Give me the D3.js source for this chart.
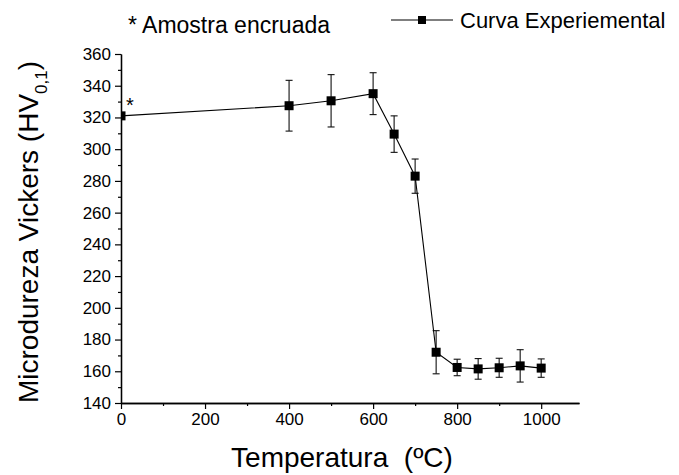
<!DOCTYPE html>
<html>
<head>
<meta charset="utf-8">
<script src="https://cdn.jsdelivr.net/npm/d3@7"></script>
<style>
  body { margin: 0; background: #fff; }
  text { font-family: "Liberation Sans", Arial, sans-serif; fill: #000; }
</style>
</head>
<body>
<div id="chart"></div>
<script>
// values
var temps = [0, 400, 500, 600, 650, 700, 750, 800, 850, 900, 950, 1000];
var hv    = [321, 327.4, 330.5, 335, 309.5, 283, 172, 162.4, 161.5, 162.2, 163.4, 162];
var errs  = [0, 16, 16.5, 13.2, 11.5, 10.8, 13.6, 5.2, 6.5, 6, 10.2, 5.8];
var xTicks = [0, 200, 400, 600, 800, 1000];
var yTicks = [140, 160, 180, 200, 220, 240, 260, 280, 300, 320, 340, 360];

var svgW = 679, svgH = 475;
var mL = 121, mR = 579, mT = 54, mB = 403;
var svg = d3.select("#chart").append("svg").attr("width", svgW).attr("height", svgH);

var x = d3.scaleLinear().domain([0, 1090]).range([mL, mR]);
var y = d3.scaleLinear().domain([140, 360]).range([mB, mT]);

var data = temps.map((t, i) => ({t: t, v: hv[i], e: errs[i]}));

// axes
var xAxis = svg.append("g").attr("transform", "translate(0," + mB + ")")
  .call(d3.axisBottom(x).tickValues(xTicks).tickSize(6).tickSizeOuter(0).tickPadding(4).tickFormat(d3.format("d")));
svg.append("g").attr("transform", "translate(0," + mB + ")")
  .call(d3.axisBottom(x).tickValues(d3.range(100, 1100, 200)).tickSize(3).tickSizeOuter(0).tickFormat(""));
var yAxis = svg.append("g").attr("transform", "translate(" + mL + ",0)")
  .call(d3.axisLeft(y).tickValues(yTicks).tickSize(6).tickSizeOuter(0).tickPadding(4).tickFormat(d3.format("d")));
svg.append("g").attr("transform", "translate(" + mL + ",0)")
  .call(d3.axisLeft(y).tickValues(d3.range(150, 360, 20)).tickSize(3).tickSizeOuter(0).tickFormat(""));
svg.selectAll(".domain").attr("stroke", "#000").attr("stroke-width", 1.3);
svg.selectAll(".tick line").attr("stroke", "#000").attr("stroke-width", 1.2);
svg.selectAll(".tick text").style("font-size", "17px").attr("fill", "#000");

// clip to plot area
svg.append("clipPath").attr("id", "plot")
  .append("rect").attr("x", mL).attr("y", 0).attr("width", mR - mL).attr("height", mB);
var plot = svg.append("g").attr("clip-path", "url(#plot)");

// error bars
var eb = plot.selectAll(".err").data(data.filter(d => d.e > 0)).enter().append("g")
  .attr("stroke", "#111").attr("stroke-width", 1.1);
eb.append("line").attr("x1", d => x(d.t)).attr("x2", d => x(d.t))
  .attr("y1", d => y(d.v - d.e)).attr("y2", d => y(d.v + d.e));
eb.append("line").attr("x1", d => x(d.t) - 3.5).attr("x2", d => x(d.t) + 3.5)
  .attr("y1", d => y(d.v + d.e)).attr("y2", d => y(d.v + d.e));
eb.append("line").attr("x1", d => x(d.t) - 3.5).attr("x2", d => x(d.t) + 3.5)
  .attr("y1", d => y(d.v - d.e)).attr("y2", d => y(d.v - d.e));

// line
plot.append("path").datum(data)
  .attr("fill", "none").attr("stroke", "#000").attr("stroke-width", 1.1)
  .attr("d", d3.line().x(d => x(d.t)).y(d => y(d.v)));

// markers
plot.selectAll(".pt").data(data).enter().append("rect")
  .attr("x", d => x(d.t) - 4.5).attr("y", d => y(d.v) - 4.5)
  .attr("width", 9).attr("height", 9).attr("fill", "#000");

// asterisk on the work-hardened sample
svg.append("text").attr("x", x(0) + 5).attr("y", y(hv[0]) - 4)
  .style("font-size", "20px").text("*");

// note
svg.append("text").attr("x", 128).attr("y", 33).style("font-size", "23px").text("* Amostra encruada");

// legend
svg.append("line").attr("x1", 391).attr("x2", 453).attr("y1", 20).attr("y2", 20)
  .attr("stroke", "#000").attr("stroke-width", 1.1);
svg.append("rect").attr("x", 418).attr("y", 16).attr("width", 8).attr("height", 8).attr("fill", "#000");
svg.append("text").attr("x", 460).attr("y", 28).style("font-size", "22px").text("Curva Experiemental");

// axis titles
svg.append("text").attr("x", 342).attr("y", 467).attr("text-anchor", "middle")
  .style("font-size", "28px").style("white-space", "pre").text("Temperatura  (\u00baC)");

var yl = svg.append("text").attr("transform", "translate(38,232) rotate(-90)")
  .attr("text-anchor", "middle").style("font-size", "28px");
yl.append("tspan").text("Microdureza Vickers (HV");
yl.append("tspan").attr("dy", 9).style("font-size", "17px").text("0,1");
yl.append("tspan").attr("dy", -9).text(")");
</script>
</body>
</html>
